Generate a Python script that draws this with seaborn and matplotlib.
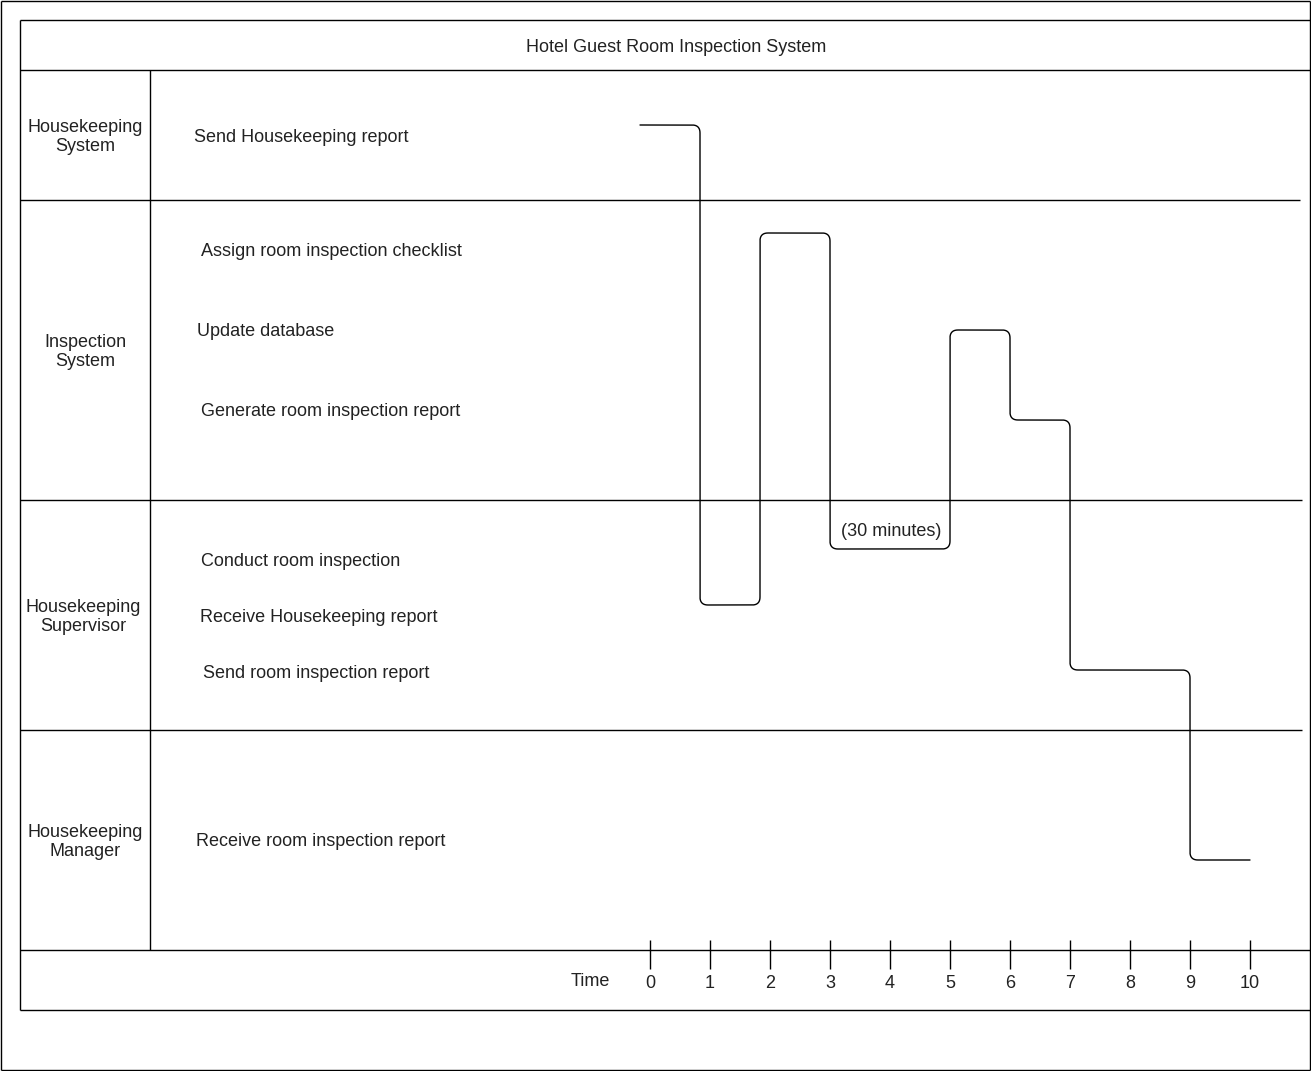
import numpy as np
import pandas as pd
import matplotlib
matplotlib.use("Agg")
import matplotlib.pyplot as plt
import seaborn as sns

# --- data -----------------------------------------------------------------
title = "Hotel Guest Room Inspection System"
lanes = ["Housekeeping\nSystem", "Inspection\nSystem",
         "Housekeeping\nSupervisor", "Housekeeping\nManager"]
lane_states = [
    "Send Housekeeping report",
    "Assign room inspection checklist",
    "Update database",
    "Generate room inspection report",
    "Conduct room inspection",
    "Receive Housekeeping report",
    "Send room inspection report",
    "Receive room inspection report",
]
# waveform: state held from change_times[i] to change_times[i+1]
wave_states = [
    "Send Housekeeping report",
    "Receive Housekeeping report",
    "Assign room inspection checklist",
    "(30 minutes)",
    "Update database",
    "Generate room inspection report",
    "Send room inspection report",
    "Receive room inspection report",
]
change_times = [-1 / 6, 5 / 6, 11 / 6, 3, 5, 6, 7, 9, 10]
time_ticks = list(range(0, 11))

# --- layout (pixels) ------------------------------------------------------
W, H = 1311, 1071
T0, PX_PER_T = 650, 60          # pixel x of time 0, pixels per time unit
state_y = {
    "Send Housekeeping report": 125,
    "Assign room inspection checklist": 233,
    "Update database": 330,
    "Generate room inspection report": 420,
    "(30 minutes)": 549,
    "Receive Housekeeping report": 605,
    "Send room inspection report": 670,
    "Receive room inspection report": 860,
}
label_pos = [(194, 135), (201, 250), (197, 330), (201, 410),
             (201, 560), (200, 615), (203, 672), (196, 840)]
lane_pos = [(85, 135), (85, 350), (83, 615), (85, 840)]
DY = 2  # nudge text to match visual centre


def tx(px):
    return (px - T0) / PX_PER_T


def rounded(points, r=8, n=10):
    out = [points[0]]
    for i in range(1, len(points) - 1):
        p0, p1, p2 = map(np.array, points[i - 1:i + 2])
        d1 = (p1 - p0) / np.linalg.norm(p1 - p0)
        d2 = (p2 - p1) / np.linalg.norm(p2 - p1)
        a, b = p1 - r * d1, p1 + r * d2
        for s in np.linspace(0, 1, n):
            out.append(tuple((1 - s) ** 2 * a + 2 * (1 - s) * s * p1 + s ** 2 * b))
    out.append(points[-1])
    return out


sns.set_style("white")
plt.rcParams["font.family"] = ["Liberation Sans", "DejaVu Sans"]

fig = plt.figure(figsize=(W / 100, H / 100), dpi=100)
ax = fig.add_axes([0, 0, 1, 1])
ax.set_xlim(tx(0), tx(W))
ax.set_ylim(H, 0)
ax.axis("off")

lc = "black"
lw = 1.0


def hline(y, x0, x1):
    ax.plot([tx(x0), tx(x1)], [y, y], color=lc, lw=lw, solid_capstyle="butt")


def vline(x, y0, y1):
    ax.plot([tx(x), tx(x)], [y0, y1], color=lc, lw=lw, solid_capstyle="butt")


# outer frame
hline(0.5, 0.5, 1310)
hline(1070, 0.5, 1310)
vline(0.5, 0.5, 1070)
vline(1310, 0.5, 1070)
# inner frame
hline(20, 20, 1310)
hline(70, 20, 1310)
hline(1010, 20, 1310)
vline(20, 20, 1010)
vline(150, 70, 950)
hline(200, 20, 1300)
hline(500, 20, 1302)
hline(730, 20, 1302)
hline(950, 20, 1310)

# waveform
pts = []
for i, st in enumerate(wave_states):
    y = state_y[st]
    pts.append((T0 + change_times[i] * PX_PER_T, y))
    pts.append((T0 + change_times[i + 1] * PX_PER_T, y))
smooth = rounded(pts)
wave = pd.DataFrame({"time": [tx(p[0]) for p in smooth],
                     "y": [p[1] for p in smooth]})
sns.lineplot(data=wave, x="time", y="y", sort=False, estimator=None,
             color="black", lw=1.0, ax=ax)
ax.set_xlabel("")
ax.set_ylabel("")
ax.axis("off")

tc = "#222222"
fs = 13
ax.text(tx(676), 45 + DY, title, ha="center", va="center", fontsize=fs, color=tc)
for name, (x, y) in zip(lanes, lane_pos):
    ax.text(tx(x), y + DY, name, ha="center", va="center", fontsize=fs,
            color=tc, multialignment="center", linespacing=1.1)
for name, (x, y) in zip(lane_states, label_pos):
    ax.text(tx(x), y + DY, name, ha="left", va="center", fontsize=fs, color=tc)
ax.text(tx(891), 530 + DY, "(30 minutes)", ha="center", va="center",
        fontsize=fs, color=tc)

# time axis
ax.text(tx(590), 980 + DY, "Time", ha="center", va="center", fontsize=fs, color=tc)
for t in time_ticks:
    ax.plot([t, t], [940, 969], color=lc, lw=lw, solid_capstyle="butt")
    ax.text(t, 981 + DY, str(t), ha="center", va="center", fontsize=fs, color=tc)

fig.savefig("out.png", dpi=100)
